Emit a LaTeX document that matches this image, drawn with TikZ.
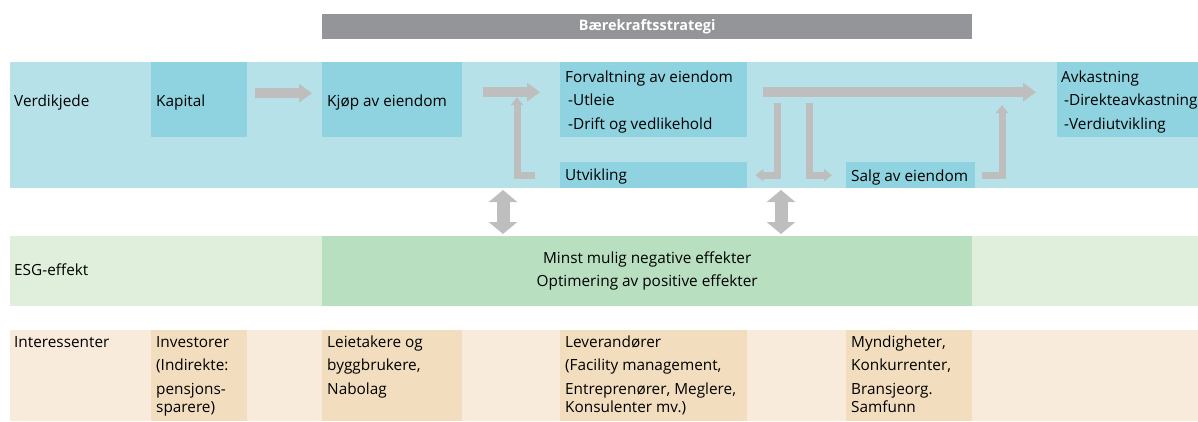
\documentclass[tikz,border=0pt]{standalone}
\usepackage{fontspec}
\setmainfont{Open Sans}
\usetikzlibrary{arrows.meta,positioning}

\definecolor{chainband}{HTML}{B6E1E9}
\definecolor{chainfill}{HTML}{8ED3DF}
\definecolor{stratgray}{HTML}{939598}
\definecolor{esgband}{HTML}{E0EFDC}
\definecolor{esgfill}{HTML}{B8DFC0}
\definecolor{stakeband}{HTML}{F9EBDB}
\definecolor{stakefill}{HTML}{F2DDBE}
\definecolor{flowgray}{HTML}{BEBEBE}

\begin{document}
\begin{tikzpicture}[x=1bp,y=-1bp,
        font=\fontsize{15.4}{23.5}\selectfont,
        txt/.style={anchor=base west,inner sep=0pt,align=left},
        chaincell/.style={anchor=north west,inner sep=0pt,fill=chainfill,minimum height=75bp},
        chainslim/.style={anchor=north west,inner sep=0pt,fill=chainfill,minimum height=26bp},
        stakecell/.style={anchor=north west,inner sep=0pt,fill=stakefill,minimum height=91bp},
        flow/.style={draw=flowgray,line width=10bp,-{Triangle[width=18bp,length=13bp]}},
        turn/.style={draw=flowgray,line width=7bp,-{Triangle[width=12bp,length=8bp]}},
        link/.style={draw=flowgray,line width=13bp,{Triangle[width=28bp,length=12bp]}-{Triangle[width=28bp,length=12bp]}}]
        \useasboundingbox (0,0) rectangle (1198,421);

        % bands
        \fill[chainband] (10,62) rectangle (1198,188);
        \fill[esgband] (10,236) rectangle (1198,306);
        \fill[stakeband] (10,330) rectangle (1198,421);

        % strategy
        \node[anchor=north west,inner sep=0pt,fill=stratgray,text=white,minimum width=650bp,minimum height=25bp,
              font=\fontsize{14.5}{17}\selectfont\bfseries] (strat) at (322,14) {Bærekraftsstrategi};

        % value chain (multi-line texts sit on the baseline of their last line)
        \node[txt] (verdi) at (14,106) {Verdikjede};
        \node[chaincell,minimum width=96bp] (kap) at (151,62) {};
        \node[chaincell,minimum width=140bp] (kjop) at (322,62) {};
        \node[chaincell,minimum width=187bp] (forv) at (560,62) {};
        \node[chainslim,minimum width=187bp] (utv) at (560,162) {};
        \node[chainslim,minimum width=129bp] (salg) at (846,162) {};
        \node[chaincell,minimum width=141bp] (avk) at (1057,62) {};

        \node[txt] (kaptxt) at ([shift={(5,44)}]kap.north west) {Kapital};
        \node[txt] (kjoptxt) at ([shift={(5,44)}]kjop.north west) {Kjøp av eiendom};
        \node[txt] (forvtxt) at ([shift={(5,67)}]forv.north west)
            {Forvaltning av eiendom\\\hspace*{3bp}-Utleie\\\hspace*{3bp}-Drift og vedlikehold};
        \node[txt] (utvtxt) at ([shift={(5,18)}]utv.north west) {Utvikling};
        \node[txt] (salgtxt) at ([shift={(5,19)}]salg.north west) {Salg av eiendom};
        \node[txt] (avktxt) at ([shift={(4,67)}]avk.north west)
            {Avkastning\\\hspace*{3bp}-Direkteavkastning\\\hspace*{3bp}-Verdiutvikling};

        \coordinate (uptip) at (517,97);
        \coordinate (splitL) at (777,103);
        \coordinate (splitR) at (809,103);
        \coordinate (salgtip) at (1002,105);

        \draw[flow] ([shift={(8,-6.5)}]kap.east) -- ([shift={(-10,-6.5)}]kjop.west);
        \draw[flow] ([shift={(21,-7.5)}]kjop.east) -- ([shift={(-20,-7.5)}]forv.west);
        \draw[flow] ([shift={(16,-7.5)}]forv.east) -- ([shift={(-21,-7.5)}]avk.west);
        \draw[turn] ([xshift=-25bp]utv.west) -| (uptip);
        \draw[turn] (splitL) |- ([xshift=8bp]utv.east);
        \draw[turn] (splitR) |- ([xshift=-14bp]salg.west);
        \draw[turn] ([xshift=7bp]salg.east) -| (salgtip);

        % links
        \coordinate (linkAtop) at (503,190);
        \coordinate (linkAbot) at (503,234);
        \coordinate (linkBtop) at (781,190);
        \coordinate (linkBbot) at (781,234);
        \draw[link] (linkAtop) -- (linkAbot);
        \draw[link] (linkBtop) -- (linkBbot);

        % ESG
        \node[txt] (esg) at (14,275) {ESG-effekt};
        \node[anchor=north west,inner sep=0pt,fill=esgfill,minimum width=650bp,minimum height=70bp,align=center]
            (esgmid) at (322,236) {Minst mulig negative effekter\\Optimering av positive effekter};

        % stakeholders
        \node[txt] (inter) at (14,347) {Interessenter};
        \node[stakecell,minimum width=96bp] (inv) at (151,330) {};
        \node[stakecell,minimum width=140bp] (leie) at (322,330) {};
        \node[stakecell,minimum width=187bp] (lev) at (560,330) {};
        \node[stakecell,minimum width=126bp] (myn) at (846,330) {};

        \node[txt] (invtxt) at ([shift={(5,82)}]inv.north west)
            {Investorer\\(Indirekte:\\pensjons-\\[-5.5bp]sparere)};
        \node[txt] (leietxt) at ([shift={(5,64)}]leie.north west)
            {Leietakere og\\byggbrukere,\\Nabolag};
        \node[txt] (levtxt) at ([shift={(5,82)}]lev.north west)
            {Leverandører\\(Facility management,\\Entreprenører, Meglere,\\[-5.5bp]Konsulenter mv.)};
        \node[txt] (myntxt) at ([shift={(5,82)}]myn.north west)
            {Myndigheter,\\Konkurrenter,\\Bransjeorg.\\[-5.5bp]Samfunn};
    \end{tikzpicture}
\end{document}
